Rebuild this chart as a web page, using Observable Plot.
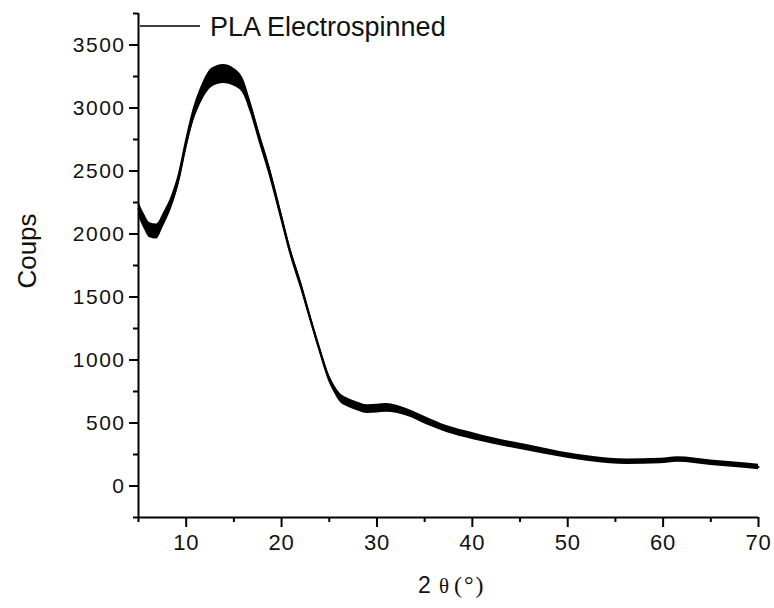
<!DOCTYPE html>
<html>
<head>
<meta charset="utf-8">
<script src="https://cdn.jsdelivr.net/npm/d3@7"></script>
<script src="https://cdn.jsdelivr.net/npm/@observablehq/plot@0.6"></script>
<style>
  body { margin: 0; background: #fff; }
  #wrap { position: relative; width: 774px; height: 608px; font-family: "Liberation Sans", Arial, sans-serif; }
  #overlay { position: absolute; left: 0; top: 0; pointer-events: none; }
</style>
</head>
<body>
<div id="wrap">
  <div id="chart"></div>
  <svg id="overlay" width="774" height="608"></svg>
</div>
<script>
// 2θ (degrees) sampled along the trace
const twoTheta = [5.0, 5.6, 6.2, 6.9, 7.6, 8.5, 9.2, 9.9, 10.6, 11.6, 12.7, 13.9, 15.1, 16.0, 16.7,
  17.7, 18.7, 19.9, 20.9, 22.0, 23.0, 24.05, 24.9, 25.5, 26.2, 27.0, 28.0, 29.0, 31.0, 33.1,
  35.2, 37.3, 40.1, 42.2, 45.7, 49.2, 52.7, 56.2, 59.7, 61.5, 65.0, 67.5, 70.0];
// Counts (centre of the noisy trace)
const counts = [2200, 2100, 2030, 2020, 2110, 2260, 2430, 2680, 2900, 3110, 3240, 3270, 3240, 3170, 3020,
  2760, 2510, 2160, 1865, 1600, 1336, 1070, 870, 775, 695, 660, 630, 610, 620, 585,
  516, 452, 395, 357, 304, 252, 212, 193, 198, 210, 185, 168, 150];
// Half-width of the noise band
const noise = [60, 60, 60, 60, 55, 50, 50, 50, 55, 65, 75, 75, 70, 60, 50,
  45, 45, 40, 35, 35, 30, 30, 30, 30, 35, 35, 35, 35, 35, 30,
  30, 28, 28, 25, 25, 22, 22, 22, 22, 22, 22, 22, 22];

const xDomain = [5, 70];
const yDomain = [-250, 3750];
const xMajor = [10, 20, 30, 40, 50, 60, 70];
const xMinor = [5, 15, 25, 35, 45, 55, 65];
const yMajor = [0, 500, 1000, 1500, 2000, 2500, 3000, 3500];
const yMinor = [-250, 250, 750, 1250, 1750, 2250, 2750, 3250, 3750];

const seriesName = "PLA Electrospinned";
const yLabel = "Coups";

const data = twoTheta.map((t, i) => ({t, c: counts[i], s: noise[i]}));

const chart = Plot.plot({
  width: 774,
  height: 608,
  marginLeft: 138,
  marginRight: 16,
  marginTop: 13,
  marginBottom: 91,
  style: {fontFamily: "Liberation Sans, Arial, sans-serif", fontSize: "20px", color: "#111", background: "#fff"},
  x: {domain: xDomain},
  y: {domain: yDomain},
  marks: [
    Plot.areaY(data, {x: "t", y1: d => d.c - d.s, y2: d => d.c + d.s, fill: "#000", curve: "monotone-x"}),
    Plot.line(data, {x: "t", y: "c", stroke: "#000", strokeWidth: 2, curve: "monotone-x"}),
    Plot.ruleX([xDomain[0]], {y1: yDomain[0], y2: yDomain[1], stroke: "#000", strokeWidth: 2}),
    Plot.ruleY([yDomain[0]], {x1: xDomain[0], x2: xDomain[1], stroke: "#000", strokeWidth: 2}),
    Plot.axisY(yMajor, {tickSize: 9, tickPadding: 4, strokeWidth: 2, stroke: "#000", label: null,
      fontSize: 21, tickFormat: d => String(d), className: "ylab"}),
    Plot.axisY(yMinor, {tickSize: 5, strokeWidth: 2, stroke: "#000", label: null, tickFormat: () => ""}),
    Plot.axisX(xMajor, {tickSize: 10, tickPadding: 7, strokeWidth: 2, stroke: "#000", label: null,
      fontSize: 22, tickFormat: d => String(d)}),
    Plot.axisX(xMinor, {tickSize: 5, strokeWidth: 2, stroke: "#000", label: null, tickFormat: () => ""})
  ]
});
document.getElementById("chart").appendChild(chart);

// widen tick labels slightly to match the stretched glyphs of the original
d3.select(chart).selectAll("g[aria-label='y-axis tick label'] text").style("letter-spacing", "1.5px");
d3.select(chart).selectAll("g[aria-label='x-axis tick label'] text").style("letter-spacing", "0.8px");

// Legend and axis titles
const ov = d3.select("#overlay");
ov.append("line").attr("x1", 140).attr("x2", 200).attr("y1", 26).attr("y2", 26)
  .attr("stroke", "#000").attr("stroke-width", 1.6);
ov.append("text").attr("x", 210).attr("y", 36)
  .attr("font-family", "Liberation Sans, Arial, sans-serif").attr("font-size", 27).attr("fill", "#111")
  .text(seriesName);
ov.append("text").attr("transform", "translate(36,251) rotate(-90)")
  .attr("text-anchor", "middle")
  .attr("font-family", "Liberation Sans, Arial, sans-serif").attr("font-size", 26).attr("fill", "#111")
  .text(yLabel);
const xl = ov.append("text").attr("x", 418).attr("y", 593).attr("fill", "#111");
xl.append("tspan").attr("font-family", "Liberation Sans, Arial, sans-serif").attr("font-size", 23).text("2");
xl.append("tspan").attr("x", 439).attr("font-family", "Liberation Serif, Times New Roman, serif").attr("font-size", 21).text("θ");
xl.append("tspan").attr("x", 454).attr("font-family", "Liberation Serif, Times New Roman, serif").attr("font-size", 24)
  .attr("letter-spacing", "2px").text("(°)");
</script>
</body>
</html>
